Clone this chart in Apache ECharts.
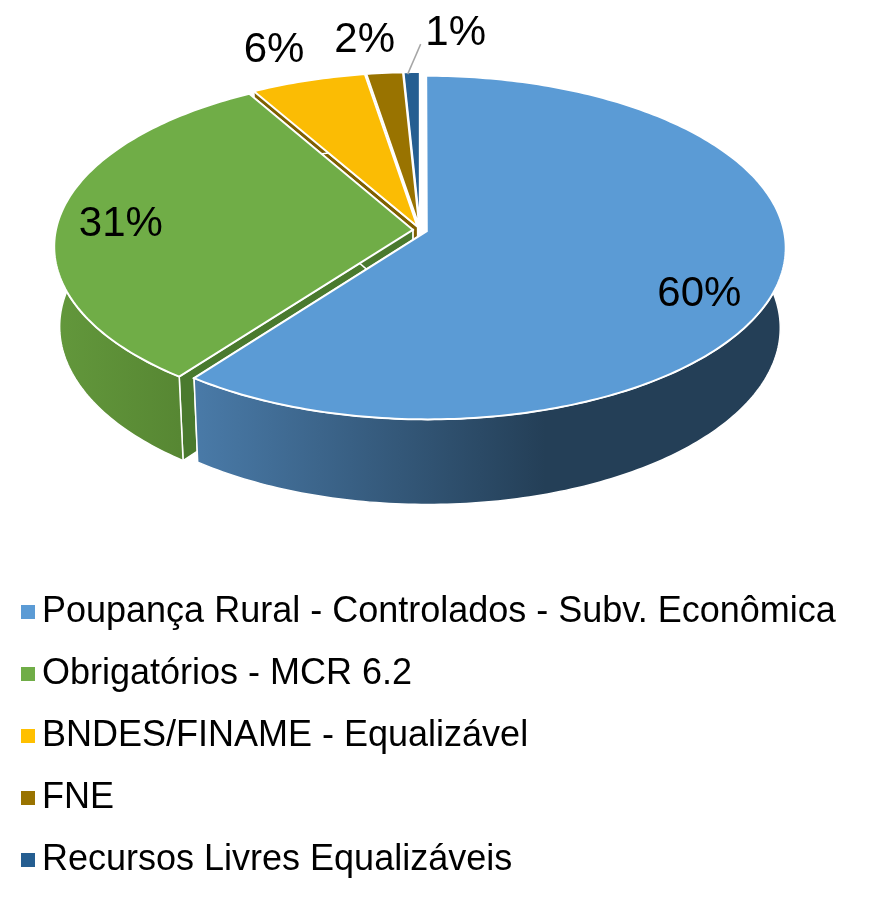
<!DOCTYPE html>
<html>
<head>
<meta charset="utf-8">
<title>Poupança Rural</title>
<script src="https://cdn.jsdelivr.net/npm/echarts@6/dist/echarts.min.js"></script>
<style>
  html, body { margin: 0; padding: 0; background: #fff; }
  #chart { width: 877px; height: 907px; }
</style>
</head>
<body>
<div id="chart"></div>
<script>
const categories = [
  "Poupança Rural - Controlados - Subv. Econômica",
  "Obrigatórios - MCR 6.2",
  "BNDES/FINAME - Equalizável",
  "FNE",
  "Recursos Livres Equalizáveis",
];
const values = [60.3, 31.4, 5.7, 1.8, 0.8];

const topColors = ["#5B9BD5", "#70AD47", "#FBBC04", "#997300", "#255E91"];
const legendColors = ["#5B9BD5", "#70AD47", "#FFC000", "#997300", "#255E91"];
const cutColors = ["#2F5597", "#4A7A2E", "#7F6000", "#5F4800", "#1A3F62"];
const rimStops = [
  [[0, "#4A7BA9"], [1, "#243F57"]],
  [[0, "#63983C"], [1, "#578733"]],
  [[0, "#7F6000"], [1, "#7F6000"]],
  [[0, "#5F4800"], [1, "#5F4800"]],
  [[0, "#1A3F62"], [1, "#1A3F62"]],
];
const rimRange = [[190, 545], [52, 180], [250, 370], [365, 405], [400, 420]];
// pixel nudge from the middle of each slice's rim to its label
const labelNudge = [[-77, 8], [62, 5], [-34, -30], [-20, -32], [44, -39]];

const cx = 420;
const cy = 230;
const radius = 357;
const flat = 170; // vertical radius of the disc
const depth = 81;
const persp = 0.096;
const perspDown = 0.015;
const explode = 0.02;
const gapColor = "#fff";

function project(u, v, t) {
  const w = 1 / (1 - persp * v + perspDown * t);
  return [cx + radius * u * w, cy + (flat * v + depth * t) * w];
}

function rimPoint(theta, shift, t) {
  return project(
    Math.sin(theta) + explode * Math.sin(shift),
    -Math.cos(theta) - explode * Math.cos(shift),
    t
  );
}

function renderSlice(index) {
  return function (params, api) {
    const a0 = (api.value(1) / 100) * Math.PI * 2;
    const a1 = ((api.value(1) + api.value(0)) / 100) * Math.PI * 2;
    const mid = (a0 + a1) / 2;
    const apex = (t) =>
      project(explode * Math.sin(mid), -explode * Math.cos(mid), t);

    const steps = Math.max(4, Math.ceil((a1 - a0) * 60));
    const topArc = [];
    const downArc = [];
    for (let i = 0; i <= steps; i++) {
      const a = a0 + ((a1 - a0) * i) / steps;
      topArc.push(rimPoint(a, mid, 0));
      downArc.push(rimPoint(a, mid, 1));
    }

    const children = [];
    const addCut = (a) => {
      // near 12 o'clock the cut faces are edge-on to the camera
      const off = Math.abs(Math.sin(a));
      if (off < 0.3) return;
      children.push({
        type: "polygon",
        shape: {
          points: [apex(0), rimPoint(a, mid, 0), rimPoint(a, mid, 1), apex(1)],
        },
        style: { fill: cutColors[index], stroke: gapColor, lineWidth: 1.5 },
      });
    };
    addCut(a0);
    addCut(a1);

    children.push({
      type: "polygon",
      shape: { points: topArc.concat(downArc.slice().reverse()) },
      style: {
        fill: new echarts.graphic.LinearGradient(
          rimRange[index][0], 0, rimRange[index][1], 0,
          rimStops[index].map((s) => ({ offset: s[0], color: s[1] })),
          true
        ),
        stroke: gapColor,
        lineWidth: 1.5,
      },
    });

    children.push({
      type: "polygon",
      shape: { points: [apex(0)].concat(topArc) },
      style: { fill: topColors[index], stroke: gapColor, lineWidth: 2 },
    });

    const rim = rimPoint(mid, mid, 0);
    const lx = rim[0] + labelNudge[index][0];
    const ly = rim[1] + labelNudge[index][1];
    if (index === 4) {
      children.push({
        type: "line",
        shape: { x1: rim[0] - 4, y1: rim[1] + 2, x2: lx - 35, y2: ly + 11 },
        style: { stroke: "#A6A6A6", lineWidth: 1.5 },
      });
    }
    children.push({
      type: "text",
      style: {
        text: Math.round(api.value(0)) + "%",
        x: lx,
        y: ly,
        align: "center",
        verticalAlign: "middle",
        font: '42px "Liberation Sans", Arial, sans-serif',
        fill: "#000",
      },
    });

    return { type: "group", children: children };
  };
}

let running = 0;
const series = categories.map((name, i) => {
  const item = {
    name: name,
    type: "custom",
    coordinateSystem: "none",
    z: 2 + (categories.length - i),
    silent: true,
    itemStyle: { color: legendColors[i] },
    renderItem: renderSlice(i),
    data: [[values[i], running]],
  };
  running += values[i];
  return item;
});

const chart = echarts.init(document.getElementById("chart"), null, {
  renderer: "canvas",
});

chart.setOption({
  animation: false,
  backgroundColor: "#fff",
  legend: {
    data: categories,
    orient: "vertical",
    left: 21,
    top: 594,
    padding: 0,
    icon: "rect",
    itemWidth: 14,
    itemHeight: 14,
    itemGap: 26,
    selectedMode: false,
    textStyle: {
      color: "#000",
      fontSize: 36,
      fontFamily: '"Liberation Sans", Arial, sans-serif',
      padding: [0, 0, 0, 2],
    },
  },
  series: series,
});
</script>
</body>
</html>
